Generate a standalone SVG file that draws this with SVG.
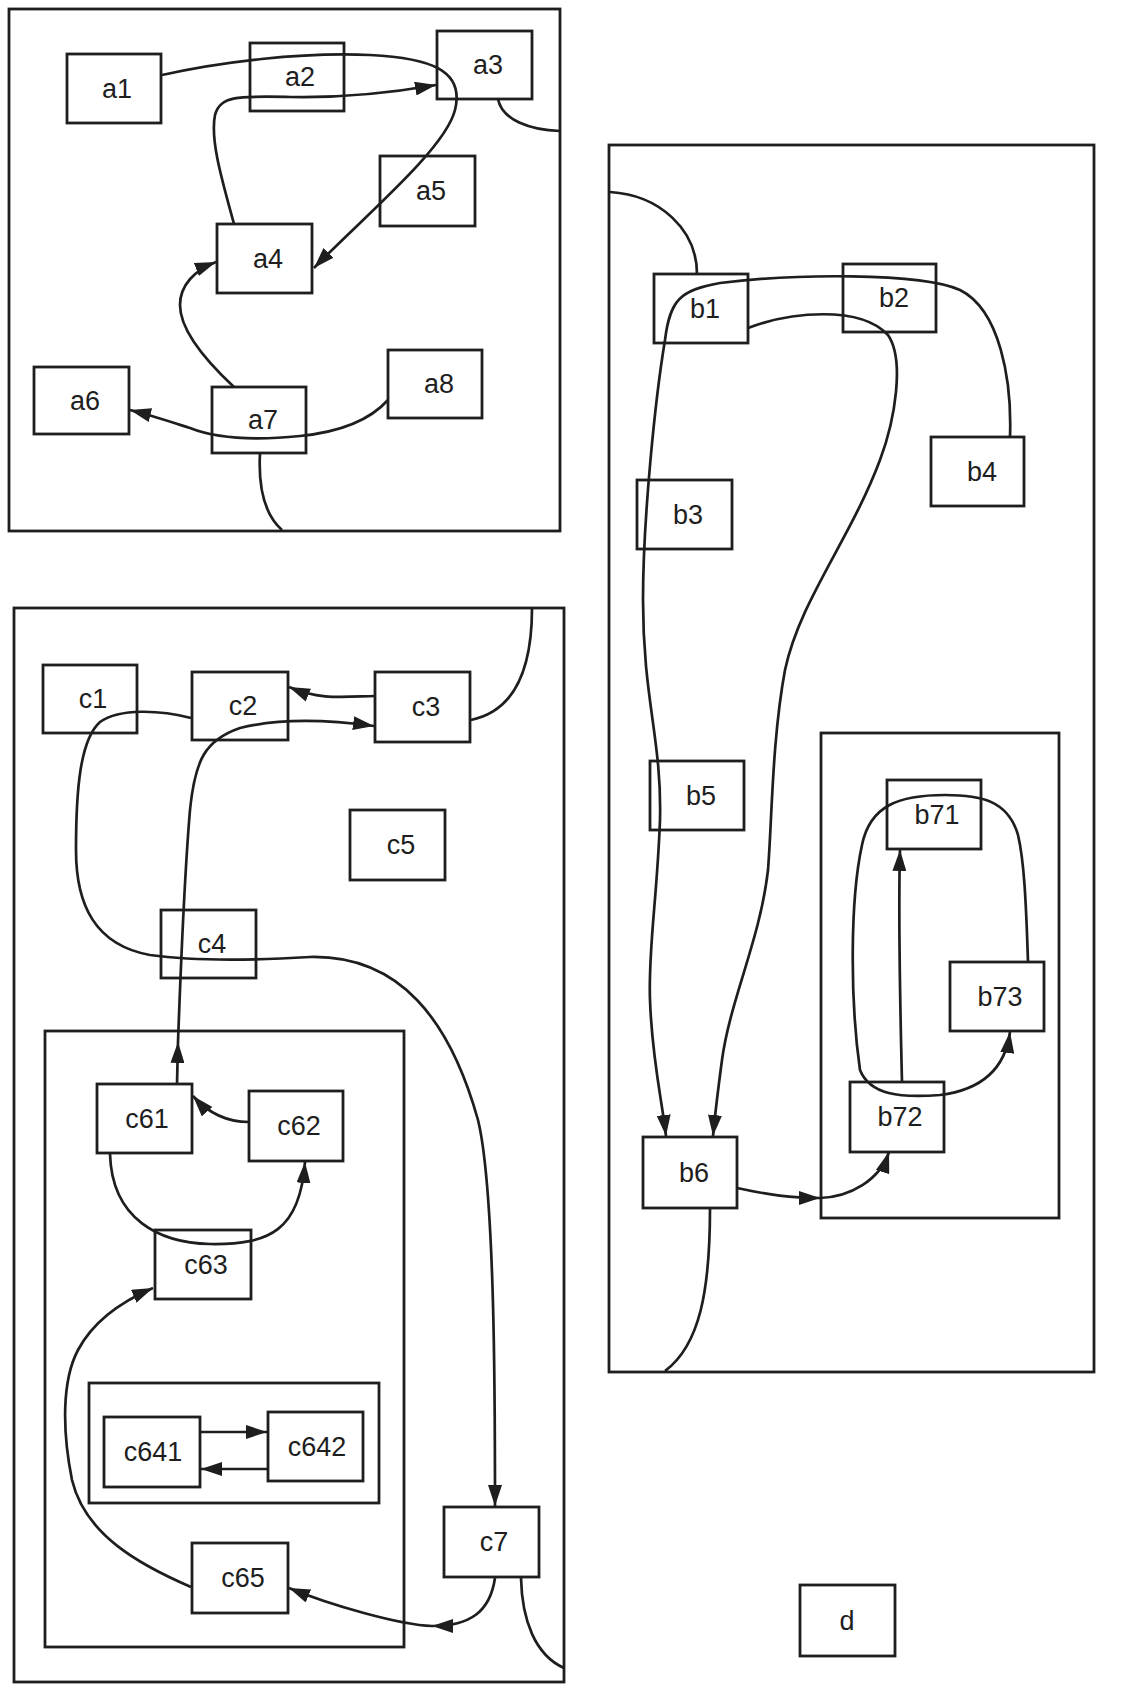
<svg xmlns="http://www.w3.org/2000/svg" width="1127" height="1684" viewBox="0 0 1127 1684">
<style>
.cl{fill:none;stroke:#1e1e1e;stroke-width:2.8}
.n rect{fill:none;stroke:#1e1e1e;stroke-width:2.8}
.n text{font-family:"Liberation Sans",Arial,sans-serif;font-size:27px;fill:#1e1e1e;text-anchor:middle}
.e path{fill:none;stroke:#1e1e1e;stroke-width:2.7}
.a{marker-end:url(#ah)}
</style>
<defs>
<marker id="ah" markerUnits="userSpaceOnUse" markerWidth="22" markerHeight="14" refX="21" refY="7" orient="auto">
<path d="M0,0 L21,7 L0,14 z" fill="#1e1e1e"/>
</marker>
</defs>
<rect width="1127" height="1684" fill="#ffffff"/>
<g id="clusters">
<rect id="clusterA" class="cl" x="9" y="9" width="551" height="522"/>
<rect id="clusterB" class="cl" x="609" y="145" width="485" height="1227"/>
<rect id="clusterB7" class="cl" x="821" y="733" width="238" height="485"/>
<rect id="clusterC" class="cl" x="14" y="608" width="550" height="1074"/>
<rect id="clusterC6" class="cl" x="45" y="1031" width="359" height="616"/>
<rect id="clusterC64" class="cl" x="89" y="1383" width="290" height="120"/>
</g>
<g id="a1" class="n"><rect x="67" y="54" width="94" height="69"/><text x="117" y="98">a1</text></g>
<g id="a2" class="n"><rect x="250" y="43" width="94" height="68"/><text x="300" y="86">a2</text></g>
<g id="a3" class="n"><rect x="437" y="31" width="95" height="68"/><text x="488" y="74">a3</text></g>
<g id="a4" class="n"><rect x="217" y="224" width="95" height="69"/><text x="268" y="268">a4</text></g>
<g id="a5" class="n"><rect x="380" y="156" width="95" height="70"/><text x="431" y="200">a5</text></g>
<g id="a6" class="n"><rect x="34" y="367" width="95" height="67"/><text x="85" y="410">a6</text></g>
<g id="a7" class="n"><rect x="212" y="387" width="94" height="66"/><text x="263" y="429">a7</text></g>
<g id="a8" class="n"><rect x="388" y="350" width="94" height="68"/><text x="439" y="393">a8</text></g>
<g id="b1" class="n"><rect x="654" y="274" width="94" height="69"/><text x="705" y="318">b1</text></g>
<g id="b2" class="n"><rect x="843" y="264" width="93" height="68"/><text x="894" y="307">b2</text></g>
<g id="b3" class="n"><rect x="637" y="480" width="95" height="69"/><text x="688" y="524">b3</text></g>
<g id="b4" class="n"><rect x="931" y="437" width="93" height="69"/><text x="982" y="481">b4</text></g>
<g id="b5" class="n"><rect x="650" y="761" width="94" height="69"/><text x="701" y="805">b5</text></g>
<g id="b6" class="n"><rect x="643" y="1137" width="94" height="71"/><text x="694" y="1182">b6</text></g>
<g id="b71" class="n"><rect x="887" y="780" width="94" height="69"/><text x="937" y="824">b71</text></g>
<g id="b72" class="n"><rect x="850" y="1082" width="94" height="70"/><text x="900" y="1126">b72</text></g>
<g id="b73" class="n"><rect x="950" y="962" width="94" height="69"/><text x="1000" y="1006">b73</text></g>
<g id="d" class="n"><rect x="800" y="1585" width="95" height="71"/><text x="847" y="1630">d</text></g>
<g id="c1" class="n"><rect x="43" y="665" width="94" height="68"/><text x="93" y="708">c1</text></g>
<g id="c2" class="n"><rect x="192" y="672" width="96" height="68"/><text x="243" y="715">c2</text></g>
<g id="c3" class="n"><rect x="375" y="672" width="95" height="70"/><text x="426" y="716">c3</text></g>
<g id="c4" class="n"><rect x="161" y="910" width="95" height="68"/><text x="212" y="953">c4</text></g>
<g id="c5" class="n"><rect x="350" y="810" width="95" height="70"/><text x="401" y="854">c5</text></g>
<g id="c61" class="n"><rect x="97" y="1084" width="95" height="69"/><text x="147" y="1128">c61</text></g>
<g id="c62" class="n"><rect x="249" y="1091" width="94" height="70"/><text x="299" y="1135">c62</text></g>
<g id="c63" class="n"><rect x="155" y="1230" width="96" height="69"/><text x="206" y="1274">c63</text></g>
<g id="c641" class="n"><rect x="104" y="1417" width="96" height="70"/><text x="153" y="1461">c641</text></g>
<g id="c642" class="n"><rect x="268" y="1412" width="95" height="69"/><text x="317" y="1456">c642</text></g>
<g id="c65" class="n"><rect x="192" y="1543" width="96" height="70"/><text x="243" y="1587">c65</text></g>
<g id="c7" class="n"><rect x="444" y="1507" width="95" height="70"/><text x="494" y="1551">c7</text></g>
<g id="connectors" class="e">
<path class="a" d="M162,75 C220,62 300,52 370,55 C430,58 465,70 455,110 C445,150 360,220 314,268"/>
<path class="a" d="M234,224 C222,180 210,140 215,115 C220,95 240,96 290,97 C340,98 390,93 436,85"/>
<path class="a" d="M234,387 C205,360 180,330 180,305 C180,285 195,270 216,262"/>
<path class="a" d="M388,400 C370,420 340,432 300,436 C260,440 220,440 190,428 C165,420 150,415 130,410"/>
<path d="M260,453 C258,490 265,515 282,530"/>
<path d="M498,99 C502,120 530,130 560,131"/>
<path d="M532,608 C532,660 520,710 471,720"/>
<path class="a" d="M375,696 C340,697 320,700 289,687"/>
<path class="a" d="M177,1084 L178,1042"/>
<path class="a" d="M178,1042 C181,960 184,880 190,810 C195,760 205,740 240,728 C280,718 330,720 374,726"/>
<path class="a" d="M191,718 C160,710 120,708 100,722 C80,740 76,790 76,850 C76,905 95,945 150,955 C200,962 260,960 310,957 C400,955 450,1020 478,1120 C495,1190 495,1400 495,1506"/>
<path class="a" d="M495,1578 C490,1612 470,1626 432,1626"/>
<path class="a" d="M432,1626 C400,1625 330,1605 289,1588"/>
<path d="M521,1578 C522,1620 535,1655 564,1668"/>
<path class="a" d="M249,1122 C230,1122 210,1115 193,1096"/>
<path class="a" d="M110,1154 C112,1220 160,1243 210,1244 C270,1245 300,1230 305,1162"/>
<path class="a" d="M191,1587 C140,1565 85,1535 72,1480 C62,1430 62,1380 78,1350 C95,1318 125,1300 153,1288"/>
<path class="a" d="M200,1432 L267,1432"/>
<path class="a" d="M268,1469 L201,1469"/>
<path d="M610,192 C660,195 697,230 697,274"/>
<path class="a" d="M1010,437 C1012,380 1000,310 960,290 C920,272 790,274 720,283 C680,290 670,300 665,340 C655,400 643,520 643,600 C643,700 662,740 660,820 C657,900 648,950 650,1000 C652,1060 662,1100 666,1136"/>
<path class="a" d="M748,328 C790,312 860,305 888,335 C905,360 895,420 880,460 C850,540 800,600 785,670 C772,740 772,820 768,870 C760,940 730,1000 722,1060 C718,1090 715,1115 713,1136"/>
<path class="a" d="M737,1188 C770,1195 790,1198 820,1198"/>
<path class="a" d="M820,1198 C850,1197 880,1180 889,1152"/>
<path class="a" d="M902,1082 C900,1000 898,920 900,850"/>
<path class="a" d="M1028,962 C1026,900 1024,860 1018,835 C1008,800 980,795 945,795 C900,795 870,805 862,845 C850,900 850,1000 860,1070 C870,1095 900,1098 940,1095 C980,1090 1005,1070 1010,1032"/>
<path d="M710,1208 C710,1290 700,1345 665,1371"/>
</g>
</svg>
